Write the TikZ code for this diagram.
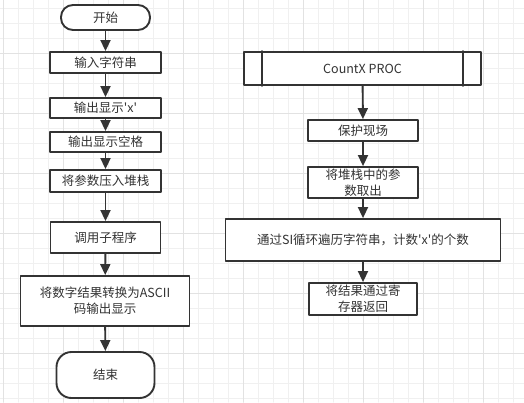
\documentclass[tikz,border=0pt]{standalone}
\usepackage{fontspec}
\newfontfamily\cjk{Noto Sans CJK SC}[Ligatures=TeXOff]
\usepackage{tikz}
\usetikzlibrary{arrows.meta}
\definecolor{edgegray}{HTML}{333333}
\definecolor{gridminor}{HTML}{F0F0F0}
\definecolor{gridmajor}{HTML}{E2E2E2}
\tikzset{
  box/.style={draw=edgegray,line width=1.9pt,fill=white,text=edgegray,inner sep=0pt,align=center,font=\cjk\fontsize{12.5}{16}\selectfont},
  term/.style={box,rounded corners=12pt},
  flow/.style={draw=edgegray,line width=1.9pt,-{Triangle[length=11pt,width=10pt]}}
}
\begin{document}
\begin{tikzpicture}[line cap=round,line join=round,x=1pt,y=-1pt]
	\clip(0,0) rectangle (524,402);
	\fill[white] (0,0) rectangle (524,402);
	\foreach \gx in {3,18,...,513} \draw[gridminor,line width=1pt] (\gx,0) -- (\gx,402);
	\foreach \gy in {8,23,...,398} \draw[gridminor,line width=1pt] (0,\gy) -- (524,\gy);
	\foreach \gx in {3,63,...,483} \draw[gridmajor,line width=1pt] (\gx,0) -- (\gx,402);
	\foreach \gy in {53,113,...,353} \draw[gridmajor,line width=1pt] (0,\gy) -- (524,\gy);
	\node[term,minimum width=89pt,minimum height=25pt] (start) at (105.5,17.5) {开始};
	\node[box,minimum width=111pt,minimum height=21pt] (input) at (105.5,62.5) {输入字符串};
	\node[box,minimum width=111pt,minimum height=20pt] (outx) at (105.5,108) {输出显示'x'};
	\node[box,minimum width=111pt,minimum height=20pt] (outsp) at (105.5,142) {输出显示空格};
	\node[box,minimum width=111pt,minimum height=22pt] (push) at (105.5,181) {将参数压入堆栈};
	\node[box,minimum width=110pt,minimum height=31pt] (call) at (105.5,237.5) {调用子程序};
	\node[box,minimum width=169pt,minimum height=50pt] (ascii) at (105,301) {将数字结果转换为ASCII\\码输出显示};
	\node[term,rounded corners=15pt,minimum width=98pt,minimum height=46pt] (finish) at (105.5,375) {结束};
	\node[box,minimum width=237pt,minimum height=33pt] (proc) at (362.5,68.5) {CountX PROC};
	\draw[draw=edgegray,line width=1.9pt] ([xshift=19pt]proc.north west) -- ([xshift=19pt]proc.south west);
	\draw[draw=edgegray,line width=1.9pt] ([xshift=-19pt]proc.north east) -- ([xshift=-19pt]proc.south east);
	\node[box,minimum width=110pt,minimum height=21pt] (save) at (363,130.5) {保护现场};
	\node[box,minimum width=110pt,minimum height=31pt] (pop) at (363,182.5) {将堆栈中的参\\数取出};
	\node[box,minimum width=275pt,minimum height=42pt] (loop) at (363,240) {通过SI循环遍历字符串，计数'x'的个数};
	\node[box,minimum width=108pt,minimum height=32pt] (ret) at (363,299) {将结果通过寄\\存器返回};
	\draw[flow] (start) -- (input);
	\draw[flow] (input) -- (outx);
	\draw[flow] (outx) -- (outsp);
	\draw[flow] (outsp) -- (push);
	\draw[flow] (push) -- (call);
	\draw[flow] (call) -- (ascii);
	\draw[flow] (ascii) -- (finish);
	\draw[flow] (proc) -- (save);
	\draw[flow] (save) -- (pop);
	\draw[flow] (pop) -- (loop);
	\draw[flow] (loop) -- (ret);
\end{tikzpicture}
\end{document}
